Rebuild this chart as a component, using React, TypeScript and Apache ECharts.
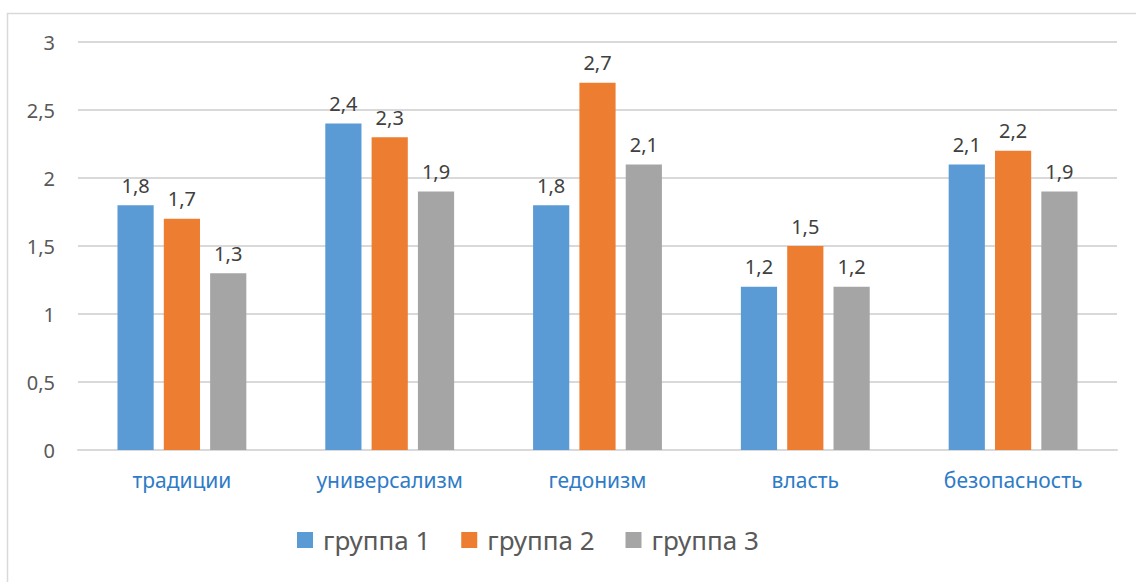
import React, { useEffect, useRef } from "react";
import * as echarts from "echarts";

const categories = ["традиции", "универсализм", "гедонизм", "власть", "безопасность"];
const group1 = [1.8, 2.4, 1.8, 1.2, 2.1];
const group2 = [1.7, 2.3, 2.7, 1.5, 2.2];
const group3 = [1.3, 1.9, 2.1, 1.2, 1.9];
const seriesNames = ["группа 1", "группа 2", "группа 3"];
const colors = ["#5B9BD5", "#ED7D31", "#A5A5A5"];

const FONT = "'Noto Sans', sans-serif";
const fmt = (v: number) => String(v).replace(".", ",");

export default function App() {
  const ref = useRef<HTMLDivElement>(null);
  useEffect(() => {
    document.body.style.margin = "0";
    const chart = echarts.init(ref.current!, null, { renderer: "svg" });
    const data = [group1, group2, group3];
    chart.setOption({
      animation: false,
      backgroundColor: "#ffffff",
      graphic: [
        {
          type: "rect",
          shape: { x: 7.5, y: 13.5, width: 1300, height: 800 },
          style: { fill: "none", stroke: "#D9D9D9", lineWidth: 1.5 },
          silent: true,
        },
      ],
      grid: { left: 78, right: 19, top: 42, bottom: 132 },
      legend: {
        bottom: 24,
        left: 292,
        itemWidth: 16,
        itemHeight: 16,
        itemGap: 31,
        icon: "rect",
        textStyle: {
          fontFamily: FONT,
          fontSize: 26,
          color: "#595959",
          padding: [0, 0, 0, 5],
        },
        data: seriesNames,
      },
      xAxis: {
        type: "category",
        data: categories,
        axisLine: { lineStyle: { color: "#D9D9D9", width: 2 } },
        axisTick: { show: false },
        axisLabel: { fontFamily: FONT, fontSize: 21, color: "#2E7BC6", margin: 19 },
      },
      yAxis: {
        type: "value",
        min: 0,
        max: 3,
        interval: 0.5,
        axisLine: { show: false },
        axisTick: { show: false },
        splitLine: { lineStyle: { color: "#D9D9D9", width: 2 } },
        axisLabel: {
          fontFamily: FONT,
          fontSize: 20,
          color: "#595959",
          margin: 23,
          formatter: (v: number) => fmt(v),
        },
      },
      series: data.map((d, i) => ({
        name: seriesNames[i],
        type: "bar",
        data: d,
        barGap: "28%",
        barCategoryGap: "38%",
        itemStyle: { color: colors[i] },
        label: {
          show: true,
          position: "top",
          distance: 10,
          fontFamily: FONT,
          fontSize: 20,
          color: "#404040",
          formatter: (p: any) => fmt(p.value),
        },
      })),
    });
    return () => chart.dispose();
  }, []);
  return <div ref={ref} style={{ width: 1136, height: 582 }} />;
}
